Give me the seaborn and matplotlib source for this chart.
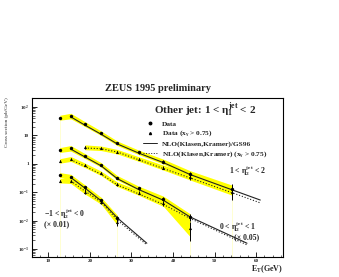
import numpy as np
import pandas as pd
import matplotlib
matplotlib.use('Agg')
import matplotlib.pyplot as plt
import seaborn as sns
from matplotlib.lines import Line2D
from matplotlib.ticker import FixedLocator, LogLocator, NullFormatter, MultipleLocator

# ---------------- data ----------------
et_bins = [12.8, 15.4, 18.8, 22.7, 26.6, 31.7, 37.7, 44.1, 54.3]

# 1 < eta2 < 2 (no scaling)
eta12_all = [42, 48, 25, 11.9, 5.27, 2.54, 1.19, 0.44, 0.13]
eta12_all_err = [0.05, 0.05, 0.06, 0.07, 0.08, 0.10, 0.12, 0.18, 0.45]
eta12_all_band = [1.22, 1.25, 1.22, 1.2, 1.2, 1.2, 1.22, 1.3, 1.35]
et_eta12_xg = [18.8, 22.7, 26.6, 31.7, 37.7, 44.1, 54.3]
eta12_xg = [3.81, 3.51, 2.67, 1.48, 0.73, 0.35, 0.105]
eta12_xg_err = [0.15, 0.08, 0.08, 0.10, 0.12, 0.2, 0.5]
eta12_xg_band = [1.22, 1.2, 1.2, 1.2, 1.22, 1.3, 1.35]

# 0 < eta2 < 1 (x 0.05)
eta01_all = [3.06, 3.51, 1.88, 0.91, 0.32, 0.137, 0.058, 0.0134]
eta01_all_err = [0.05, 0.05, 0.06, 0.07, 0.08, 0.10, 0.15, 0.3]
eta01_all_band = [1.22, 1.25, 1.22, 1.2, 1.2, 1.2, 1.25, 1.3]
eta01_xg = [1.26, 1.48, 0.885, 0.46, 0.19, 0.096, 0.041, 0.0055]
eta01_xg_err = [0.06, 0.06, 0.07, 0.08, 0.10, 0.12, 0.18, 0.65]
eta01_xg_band = [1.2, 1.22, 1.2, 1.2, 1.2, 1.22, 1.3, 2.0]

# -1 < eta2 < 0 (x 0.01)
etam10_all = [0.40, 0.34, 0.149, 0.053, 0.012]
etam10_all_err = [0.05, 0.06, 0.1, 0.12, 0.25]
etam10_all_band = [1.22, 1.25, 1.22, 1.25, 1.3]
etam10_xg = [0.254, 0.248, 0.104, 0.046, 0.0091]
etam10_xg_err = [0.06, 0.07, 0.2, 0.15, 0.3]
etam10_xg_band = [1.2, 1.22, 1.2, 1.22, 1.3]

# NLO (Klasen, Kramer) curves
nlo_et_12 = [15.4, 18.8, 22.7, 26.6, 31.7, 37.7, 44.1, 54.3, 61.0]
nlo_eta12_all = [45, 23, 11, 5.0, 2.4, 1.1, 0.42, 0.12, 0.053]
nlo_et_12_xg = [18.8, 22.7, 26.6, 31.7, 37.7, 44.1, 54.3, 61.0]
nlo_eta12_xg = [3.6, 3.4, 2.6, 1.4, 0.68, 0.32, 0.095, 0.042]
nlo_et_01 = [15.4, 18.8, 22.7, 26.6, 31.7, 37.7, 44.1, 57.8]
nlo_eta01_all = [3.3, 1.75, 0.85, 0.30, 0.125, 0.052, 0.0135, 0.0016]
nlo_eta01_xg = [1.4, 0.82, 0.43, 0.18, 0.088, 0.037, 0.012, 0.0014]
nlo_et_m10 = [15.4, 18.8, 22.7, 26.6, 33.7]
nlo_etam10_all = [0.33, 0.14, 0.05, 0.0125, 0.0016]
nlo_etam10_xg = [0.25, 0.11, 0.045, 0.0105, 0.0014]

x_ticks = [10, 20, 30, 40, 50, 60]
y_ticks = [1e-3, 1e-2, 1e-1, 1, 10, 100]
y_ticklabels = [r'10$^{-3}$', r'10$^{-2}$', r'10$^{-1}$', '1', '10', r'10$^{2}$']

# ---------------- style ----------------
sns.set_theme(style='ticks')
plt.rcParams['font.family'] = ['Liberation Serif', 'DejaVu Serif']
plt.rcParams['font.weight'] = 'bold'
plt.rcParams['mathtext.fontset'] = 'custom'
plt.rcParams['mathtext.rm'] = 'Liberation Serif:bold'
plt.rcParams['mathtext.it'] = 'Liberation Serif:bold'
plt.rcParams['mathtext.bf'] = 'Liberation Serif:bold'

fig = plt.figure(figsize=(3.39, 2.77), dpi=100)
ax = fig.add_axes([0.0935, 0.0733, 0.7405, 0.5740])
ax.set_yscale('log')
ax.set_xlim(6, 66.4)
ax.set_ylim(10 ** -3.27, 10 ** 2.327)

YEL = '#ffff00'
VLINE = '#ffffb0'

series = [
    (et_bins, eta12_all, eta12_all_err, eta12_all_band, 'all'),
    (et_eta12_xg, eta12_xg, eta12_xg_err, eta12_xg_band, 'xg'),
    (et_bins[:8], eta01_all, eta01_all_err, eta01_all_band, 'all'),
    (et_bins[:8], eta01_xg, eta01_xg_err, eta01_xg_band, 'xg'),
    (et_bins[:5], etam10_all, etam10_all_err, etam10_all_band, 'all'),
    (et_bins[:5], etam10_xg, etam10_xg_err, etam10_xg_band, 'xg'),
]

ybot = ax.get_ylim()[0]
rows = []
for x, y, e, b, kind in series:
    x = np.array(x); y = np.array(y); e = np.array(e); b = np.array(b)
    ax.fill_between(x, y / b, y * b, color=YEL, lw=0, zorder=1)
    if kind == 'all':
        ax.vlines([x[-1]], ybot, y[-1] / b[-1], color=VLINE, lw=0.4, zorder=0.5)
    ax.errorbar(x, y, yerr=[y * e, y * e], fmt='none', ecolor='black',
                elinewidth=0.7, capsize=0, zorder=4)
    for xi, yi in zip(x, y):
        rows.append({'Et': xi, 'xs': yi, 'kind': kind})
ax.vlines([et_bins[0]], ybot, eta12_all[0] / eta12_all_band[0], color=VLINE, lw=0.4, zorder=0.5)

df = pd.DataFrame(rows)
sns.scatterplot(data=df[df.kind == 'all'], x='Et', y='xs', marker='o', color='black',
                s=6, linewidth=0, legend=False, ax=ax, zorder=5)
sns.scatterplot(data=df[df.kind == 'xg'], x='Et', y='xs', marker='^', color='black',
                s=5, linewidth=0, legend=False, ax=ax, zorder=5)

nlo = [
    (nlo_et_12, nlo_eta12_all, '-'),
    (nlo_et_12_xg, nlo_eta12_xg, ':'),
    (nlo_et_01, nlo_eta01_all, '-'),
    (nlo_et_01, nlo_eta01_xg, ':'),
    (nlo_et_m10, nlo_etam10_all, '-'),
    (nlo_et_m10, nlo_etam10_xg, ':'),
]
for x, y, ls in nlo:
    d = pd.DataFrame({'Et': x, 'xs': y})
    sns.lineplot(data=d, x='Et', y='xs', color='#222222', lw=0.8, linestyle=ls,
                 ax=ax, zorder=3)

# axes cosmetics
ax.set_xlabel('')
ax.set_ylabel('')
ax.xaxis.set_major_locator(FixedLocator(x_ticks))
ax.xaxis.set_minor_locator(MultipleLocator(2))
ax.yaxis.set_major_locator(FixedLocator(y_ticks))
ax.set_yticklabels(y_ticklabels)
ax.yaxis.set_minor_locator(LogLocator(base=10, subs=np.arange(2, 10)))
ax.yaxis.set_minor_formatter(NullFormatter())
ax.tick_params(axis='both', which='major', direction='in', length=3.5, width=0.7,
               labelsize=3.6, pad=2)
ax.tick_params(axis='both', which='minor', direction='in', length=1.8, width=0.5)
for s in ax.spines.values():
    s.set_linewidth(0.8)
    s.set_color('black')

fig.text(0.466, 0.682, 'ZEUS 1995 preliminary', ha='center', va='center',
         fontsize=7.5, fontweight='bold')
fig.text(0.02, 0.56, 'Cross section (pb/GeV)', rotation=90, ha='center', va='center',
         fontsize=3.8, fontweight='normal')
fig.text(0.835, 0.03, r'E$_{\mathrm{T}}$(GeV)', ha='right', va='center', fontsize=5.8)

handles = [
    Line2D([], [], marker='o', color='black', ls='none', ms=1.8),
    Line2D([], [], marker='^', color='black', ls='none', ms=1.5),
    Line2D([], [], color='#222222', ls='-', lw=0.7),
    Line2D([], [], color='#222222', ls=':', lw=0.7),
]
labels = ['Data', r'Data (x$_\gamma$ > 0.75)', 'NLO(Klasen,Kramer)/GS96',
          r'NLO(Klasen,Kramer) (x$_\gamma$ > 0.75)']
leg = ax.legend(handles, labels, title=r'Other jet: 1 < $\eta_1^{jet}$ < 2',
                loc='upper left', bbox_to_anchor=(0.425, 1.012), frameon=False,
                fontsize=5.3, title_fontsize=8, handlelength=1.9, handletextpad=0.7,
                labelspacing=0.2, borderpad=0.15)
leg.get_title().set_fontweight('bold')

FS = 5.6
ax.text(0.858, 0.541, r'1 < $\eta_2^{jet}$ < 2', transform=ax.transAxes,
        ha='center', va='center', fontsize=FS)
ax.text(0.818, 0.19, r'0 < $\eta_2^{jet}$ < 1', transform=ax.transAxes,
        ha='center', va='center', fontsize=FS)
ax.text(0.856, 0.125, '(\u00d7 0.05)', transform=ax.transAxes,
        ha='center', va='center', fontsize=FS)
ax.text(0.049, 0.268, r'$-$1 < $\eta_2^{jet}$ < 0', transform=ax.transAxes,
        ha='left', va='center', fontsize=FS)
ax.text(0.049, 0.202, '(\u00d7 0.01)', transform=ax.transAxes,
        ha='left', va='center', fontsize=FS)

fig.savefig('out.png', dpi=100)
